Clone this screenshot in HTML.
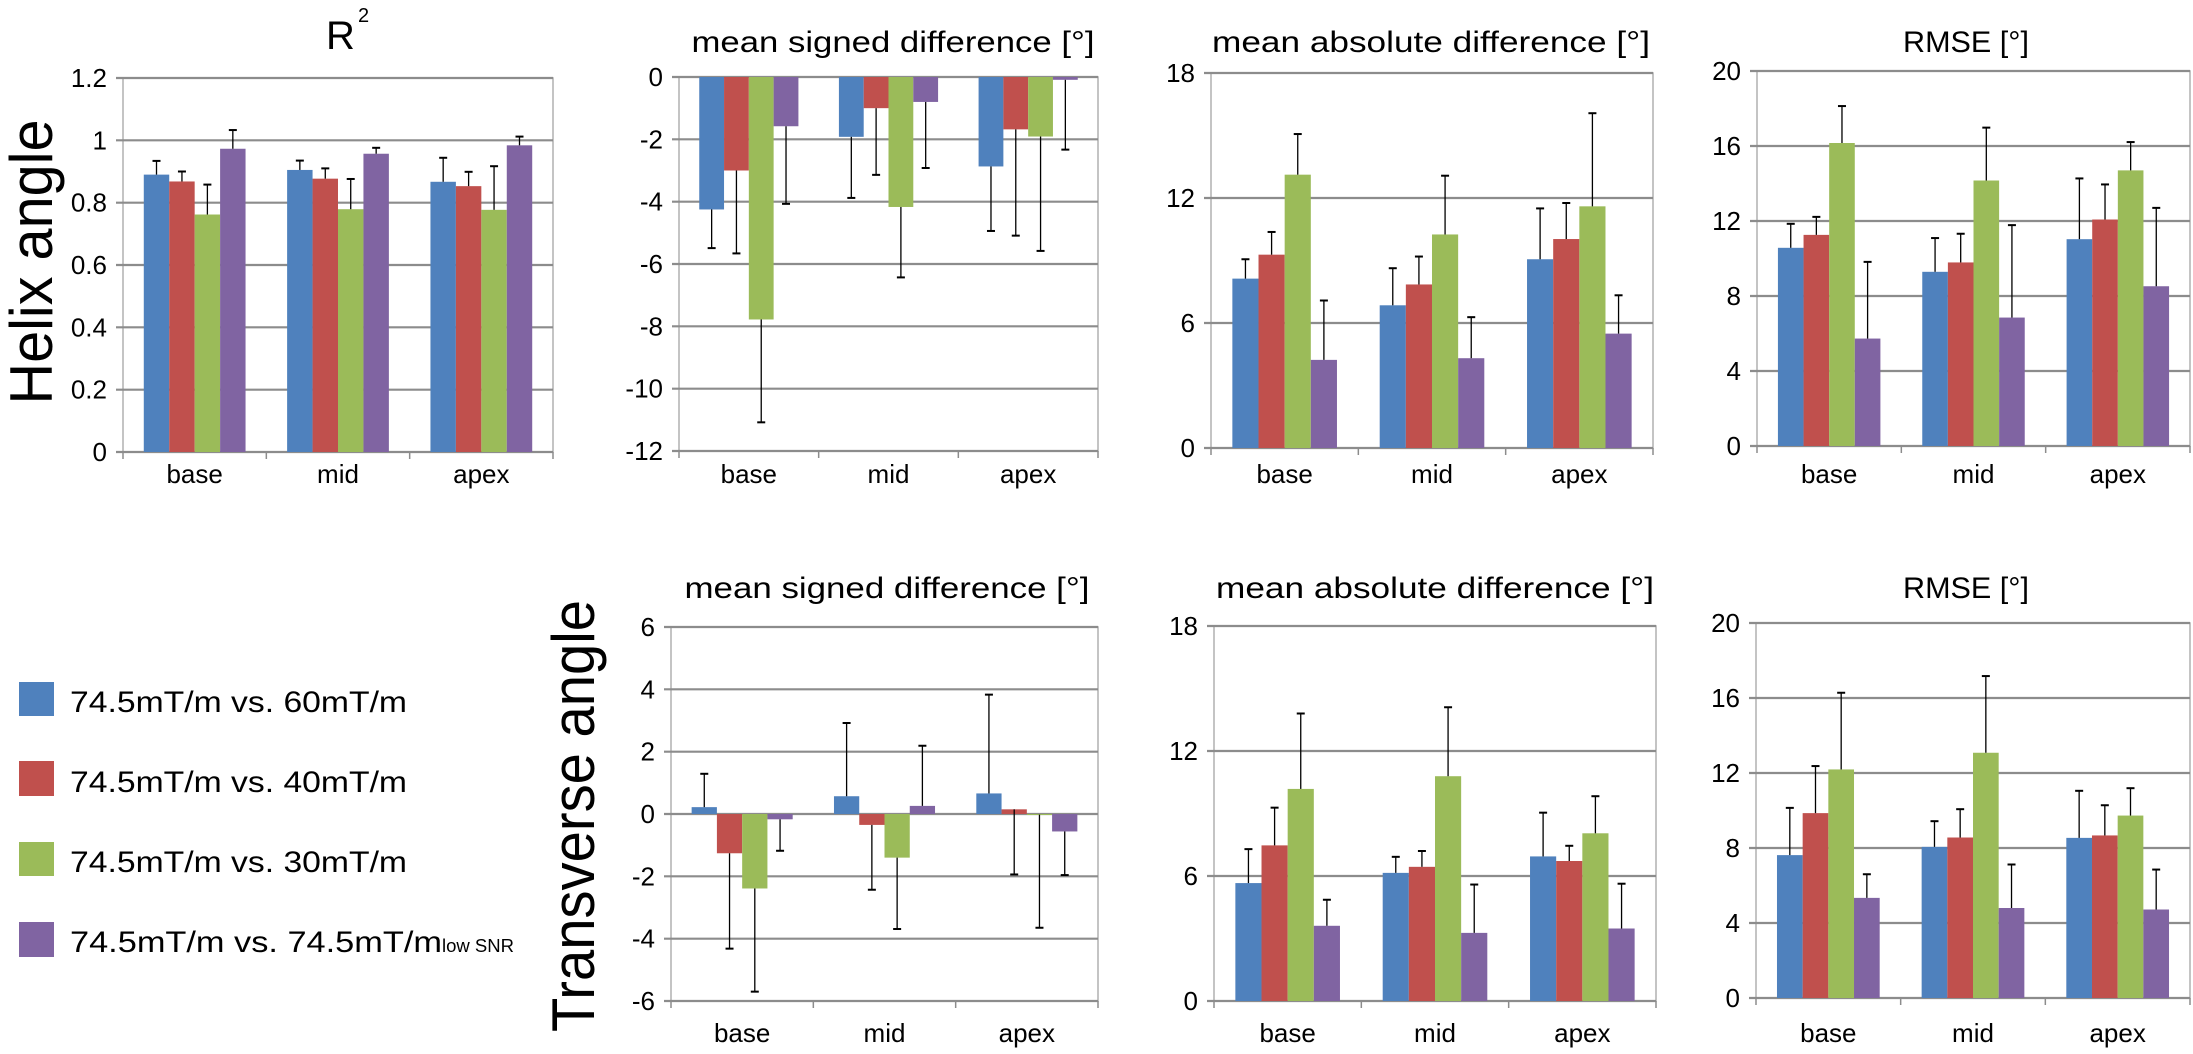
<!DOCTYPE html>
<html><head><meta charset="utf-8"><style>
html,body{margin:0;padding:0;background:#fff;}
svg{display:block;font-family:"Liberation Sans",sans-serif;}
</style></head><body>
<svg id="fig" width="2193" height="1054" viewBox="0 0 2193 1054">
  <text x="0" y="0" font-size="60" text-anchor="middle" transform="translate(52,262) rotate(-90)" textLength="285" lengthAdjust="spacingAndGlyphs">Helix angle</text>
  <text x="0" y="0" font-size="60" text-anchor="middle" transform="translate(594,816) rotate(-90)" textLength="432" lengthAdjust="spacingAndGlyphs">Transverse angle</text>
  <text x="326" y="49" font-size="40">R</text>
  <text x="358" y="22" font-size="20">2</text>
  <g>
    <g><rect x="19" y="682" width="35" height="34" fill="#4F81BD"/><text x="70" y="712" font-size="30" textLength="337" lengthAdjust="spacingAndGlyphs">74.5mT/m vs. 60mT/m</text></g>
    <g><rect x="19" y="761" width="35" height="35" fill="#C0504D"/><text x="70" y="792" font-size="30" textLength="337" lengthAdjust="spacingAndGlyphs">74.5mT/m vs. 40mT/m</text></g>
    <g><rect x="19" y="842" width="35" height="34" fill="#9BBB59"/><text x="70" y="872" font-size="30" textLength="337" lengthAdjust="spacingAndGlyphs">74.5mT/m vs. 30mT/m</text></g>
    <g><rect x="19" y="922" width="35" height="35" fill="#8064A2"/><text x="70" y="952" font-size="30" textLength="372" lengthAdjust="spacingAndGlyphs">74.5mT/m vs. 74.5mT/m</text><text x="442" y="952" font-size="18" textLength="72" lengthAdjust="spacingAndGlyphs">low SNR</text></g>
  </g>
</svg>
<script>
const categories = ["base","mid","apex"];
const seriesColors = ["#4F81BD","#C0504D","#9BBB59","#8064A2"];

// helix R2
const r2Values = [[0.89,0.905,0.867],[0.868,0.877,0.853],[0.762,0.779,0.777],[0.973,0.957,0.984]];
const r2ErrEnds = [[0.934,0.935,0.944],[0.90,0.91,0.899],[0.858,0.876,0.917],[1.033,0.976,1.012]];
const r2Ticks = [0,0.2,0.4,0.6,0.8,1,1.2];
// helix mean signed difference
const hMsdValues = [[-4.25,-1.92,-2.87],[-3.0,-1.0,-1.68],[-7.78,-4.17,-1.91],[-1.58,-0.80,-0.09]];
const hMsdErrEnds = [[-5.49,-3.88,-4.94],[-5.66,-3.14,-5.09],[-11.08,-6.43,-5.58],[-4.07,-2.92,-2.33]];
const hMsdTicks = [-12,-10,-8,-6,-4,-2,0];
// helix mean absolute difference
const hMadValues = [[8.13,6.85,9.06],[9.28,7.85,10.03],[13.12,10.25,11.6],[4.23,4.31,5.49]];
const hMadErrEnds = [[9.06,8.63,11.5],[10.37,9.19,11.76],[15.07,13.07,16.07],[7.08,6.28,7.33]];
const madTicks = [0,6,12,18];
// helix RMSE
const hRmseValues = [[10.57,9.29,11.03],[11.26,9.79,12.08],[16.16,14.16,14.7],[5.73,6.85,8.52]];
const hRmseErrEnds = [[11.85,11.09,14.27],[12.22,11.32,13.95],[18.13,16.98,16.21],[9.82,11.78,12.7]];
const rmseTicks = [0,4,8,12,16,20];
// transverse mean signed difference
const tMsdValues = [[0.22,0.57,0.66],[-1.26,-0.35,0.15],[-2.39,-1.40,-0.02],[-0.17,0.26,-0.56]];
const tMsdErrEnds = [[1.29,2.92,3.83],[-4.32,-2.43,-1.94],[-5.7,-3.69,-3.65],[-1.18,2.19,-1.96]];
const tMsdTicks = [-6,-4,-2,0,2,4,6];
// transverse mean absolute difference
const tMadValues = [[5.66,6.15,6.94],[7.47,6.44,6.72],[10.18,10.79,8.05],[3.61,3.27,3.48]];
const tMadErrEnds = [[7.29,6.92,9.04],[9.28,7.2,7.45],[13.8,14.1,9.83],[4.86,5.59,5.63]];
// transverse RMSE
const tRmseValues = [[7.62,8.06,8.54],[9.86,8.56,8.67],[12.19,13.08,9.73],[5.34,4.8,4.72]];
const tRmseErrEnds = [[10.14,9.43,11.05],[12.37,10.07,10.28],[16.28,17.17,11.19],[6.6,7.12,6.85]];

const NS = "http://www.w3.org/2000/svg";
const svg = document.getElementById("fig");
function mk(tag, attrs, parent){const e=document.createElementNS(NS,tag);for(const k in attrs)e.setAttribute(k,attrs[k]);(parent||svg).appendChild(e);return e;}

function chart(name, box, ticks, values, errEnds, title){
  const g = mk("g",{});
  
  
  const min=ticks[0], max=ticks[ticks.length-1];
  const y = v => box.bottom - (v-min)/(max-min)*(box.bottom-box.top);
  const x0 = box.left, gw = (box.right-box.left)/categories.length;
  mk("rect",{x:box.left,y:box.top,width:box.right-box.left,height:box.bottom-box.top,fill:"none",stroke:"#b0b0b0","stroke-width":1.5},g);
  ticks.forEach(t=>{
    const gl = mk("line",{x1:box.left-7,x2:box.right,y1:y(t),y2:y(t),stroke:"#8c8c8c","stroke-width":2.2},g);
    
    
    const tl = mk("text",{x:box.left-16,y:y(t)+9,"font-size":26,"text-anchor":"end"},g);
    tl.textContent = String(t);
    
    
  });
  const zero = y(Math.max(min,Math.min(max,0)));
  const bw = gw*0.71/4;
  categories.forEach((c,ci)=>{
    const gx = x0+ci*gw;
    mk("line",{x1:gx,x2:gx,y1:box.bottom,y2:box.bottom+7,stroke:"#8c8c8c","stroke-width":1.5},g);
    const cl = mk("text",{x:gx+gw/2,y:box.labelY,"font-size":26,"text-anchor":"middle"},g);
    cl.textContent = c;
    
    
    values.forEach((ser,si)=>{
      const v = ser[ci];
      const bx = gx + (gw-4*bw)/2 + si*bw;
      const yv = y(v);
      const r = mk("rect",{x:bx,y:Math.min(yv,zero),width:bw,height:Math.max(1,Math.abs(zero-yv)),fill:seriesColors[si]},g);
      
      
      const ye = y(errEnds[si][ci]);
      const cx = bx+bw/2;
      const el = mk("line",{x1:cx,x2:cx,y1:yv,y2:ye,stroke:"#000","stroke-width":1.3},g);
      
      
      mk("line",{x1:cx-4,x2:cx+4,y1:ye,y2:ye,stroke:"#000","stroke-width":2},g);
    });
  });
  mk("line",{x1:box.right,x2:box.right,y1:box.bottom,y2:box.bottom+7,stroke:"#8c8c8c","stroke-width":1.5},g);
  if(title){
    const tt = mk("text",{x:title.cx,y:title.y,"font-size":30,"text-anchor":"middle",textLength:title.w,lengthAdjust:"spacingAndGlyphs"},g);
    tt.textContent = title.text;
    
    
  }
}
chart("helix-r2-chart",{left:123,right:553,top:78,bottom:452,labelY:483},r2Ticks,r2Values,r2ErrEnds,null);
chart("helix-msd-chart",{left:679,right:1098,top:77,bottom:451,labelY:483},hMsdTicks,hMsdValues,hMsdErrEnds,{cx:893,y:52,w:403,text:"mean signed difference [°]"});
chart("helix-mad-chart",{left:1211,right:1653,top:73,bottom:448,labelY:483},madTicks,hMadValues,hMadErrEnds,{cx:1431,y:52,w:438,text:"mean absolute difference [°]"});
chart("helix-rmse-chart",{left:1757,right:2190,top:71,bottom:446,labelY:483},rmseTicks,hRmseValues,hRmseErrEnds,{cx:1966,y:52,w:126,text:"RMSE [°]"});
chart("transverse-msd-chart",{left:671,right:1098,top:627,bottom:1001,labelY:1042},tMsdTicks,tMsdValues,tMsdErrEnds,{cx:887,y:598,w:405,text:"mean signed difference [°]"});
chart("transverse-mad-chart",{left:1214,right:1656,top:626,bottom:1001,labelY:1042},madTicks,tMadValues,tMadErrEnds,{cx:1435,y:598,w:438,text:"mean absolute difference [°]"});
chart("transverse-rmse-chart",{left:1756,right:2190,top:623,bottom:998,labelY:1042},rmseTicks,tRmseValues,tRmseErrEnds,{cx:1966,y:598,w:126,text:"RMSE [°]"});
</script>
</body></html>
